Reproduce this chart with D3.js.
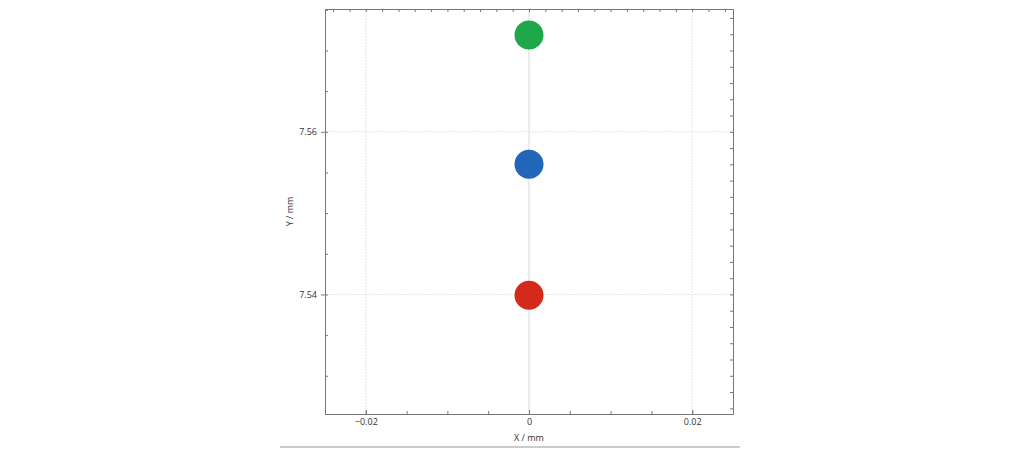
<!DOCTYPE html>
<html><head><meta charset="utf-8">
<script src="https://cdn.jsdelivr.net/npm/d3@7"></script>
<style>body{margin:0;background:#fff}text{font-family:"Open Sans",sans-serif}</style>
</head><body><svg id="chart" width="1024" height="449"></svg>
<script>
var xs = [0, 0, 0];
var ys = [7.5399, 7.556, 7.5719];
var colors = ["#d42a1c", "#2166b8", "#1ea84a"];
var xTicks = [-0.02, 0, 0.02];
var yTicks = [7.54, 7.56];

var pLeft = 325, pRight = 733, pTop = 9, pBottom = 414;
var svg = d3.select("#chart");
var x = d3.scaleLinear().domain([-0.025, 0.025]).range([pLeft, pRight]);
var y = d3.scaleLinear().domain([7.5253, 7.5751]).range([pBottom, pTop]);

// grid
svg.selectAll(".gx").data(xTicks).enter().append("line")
  .attr("x1", d => x(d)).attr("x2", d => x(d)).attr("y1", pTop).attr("y2", pBottom)
  .attr("stroke", d => d === 0 ? "#d8d8d8" : "#e6e6e6")
  .attr("stroke-dasharray", d => d === 0 ? null : "2,1");
svg.selectAll(".gy").data(yTicks).enter().append("line")
  .attr("x1", pLeft).attr("x2", pRight).attr("y1", d => y(d)).attr("y2", d => y(d))
  .attr("stroke", "#e6e6e6").attr("stroke-dasharray", "2,1");

var fmt = d => d === 0 ? "0" : d3.format(".2f")(d);
function minor(scale, step) {
  var dm = scale.domain(), out = [];
  for (var v = Math.ceil(dm[0] / step) * step; v <= dm[1] + 1e-9; v += step) out.push(v);
  return out;
}

// bottom axis
svg.append("g").attr("transform", "translate(0," + pBottom + ")")
  .call(d3.axisBottom(x).tickValues(minor(x, 0.005)).tickSizeInner(-3).tickSizeOuter(0).tickFormat(""));
svg.append("g").attr("transform", "translate(0," + pBottom + ")")
  .call(d3.axisBottom(x).tickValues(xTicks).tickSizeInner(-4).tickSizeOuter(0).tickFormat(fmt).tickPadding(5));
// left axis
svg.append("g").attr("transform", "translate(" + pLeft + ",0)")
  .call(d3.axisLeft(y).tickValues(minor(y, 0.005)).tickSizeInner(-3).tickSizeOuter(0).tickFormat(""));
svg.append("g").attr("transform", "translate(" + pLeft + ",0)")
  .call(d3.axisLeft(y).tickValues(yTicks).tickSizeInner(4).tickSizeOuter(0).tickFormat(fmt).tickPadding(4));
// top and right
svg.append("g").attr("transform", "translate(0," + pTop + ")")
  .call(d3.axisTop(x).tickValues(minor(x, 0.002)).tickSizeInner(-3).tickSizeOuter(0).tickFormat(""));
svg.append("g").attr("transform", "translate(" + pRight + ",0)")
  .call(d3.axisRight(y).tickValues(minor(y, 0.002)).tickSizeInner(-3).tickSizeOuter(0).tickFormat(""));

svg.selectAll(".domain").attr("stroke", "#777");
svg.selectAll(".tick line").attr("stroke", "#777");
svg.selectAll(".tick text").attr("fill", "#333").attr("font-size", 9);

svg.append("text").attr("x", x(0)).attr("y", pBottom + 27).attr("text-anchor", "middle")
  .attr("font-size", 9).attr("fill", "#333").text("X / mm");
svg.append("text").attr("transform", "translate(293," + ((pTop + pBottom) / 2) + ") rotate(-90)")
  .attr("text-anchor", "middle").attr("font-size", 9).attr("fill", "#333").text("Y / mm");

svg.selectAll(".pt").data(ys).enter().append("circle")
  .attr("cx", (d, i) => x(xs[i])).attr("cy", d => y(d)).attr("r", 14.5)
  .attr("fill", (d, i) => colors[i]);

svg.append("line").attr("x1", 280).attr("x2", 740).attr("y1", 447).attr("y2", 447)
  .attr("stroke", "#ccc").attr("stroke-width", 2);
</script></body></html>
